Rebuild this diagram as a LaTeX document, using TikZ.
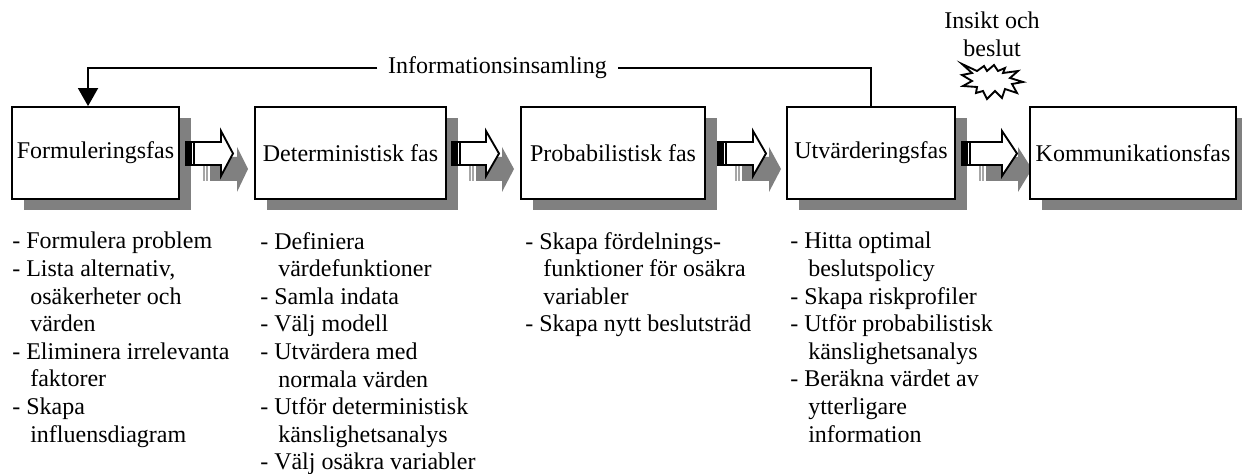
\documentclass[tikz,border=0pt]{standalone}
\usepackage{fontspec}
\setmainfont{Liberation Serif}
\usetikzlibrary{positioning}
\usetikzlibrary{arrows.meta}
\usetikzlibrary{shadows}
\tikzset{
 fas/.style={draw,line width=1.4pt,fill=white,minimum height=69pt,inner sep=0pt,
  drop shadow={fill=gray,opacity=1,shadow xshift=9pt,shadow yshift=-8.5pt}},
 lista/.style={anchor=north west,align=left,inner sep=0pt,font=\fontsize{18}{20.7}\selectfont},
 linje/.style={draw,line width=1.4pt},
 pilskugga/.style={fill=gray,draw=none}
}
\newcommand{\ind}{\hspace*{13.5pt}}
\newcommand{\fasepil}[3]{
 \fill[pilskugga]({#1+24},157)--({#2+16},157)--({#2+16},147)--({#3+15},169)--({#2+16},192)--({#2+16},181)--({#1+24},181)--cycle;
 \draw[gray!70,line width=1.1pt]({#1+18},165)--({#1+18},181);
 \draw[gray!70,line width=1.1pt]({#1+21},165)--({#1+21},181);
 \draw[linje,fill=white,line join=miter]({#1},142)--({#2},142)--({#2},131)--({#3},153.5)--({#2},176)--({#2},165)--({#1},165)--cycle;
 \fill[black]({#1},142) rectangle ({#1+6},165);
 \draw[line width=1.4pt]({#1+8},142)--({#1+8},165);
}

\begin{document}
\begin{tikzpicture}[x=0.75pt,y=-0.75pt,font=\fontsize{18}{21}\selectfont]
 \useasboundingbox (0,0) rectangle (1242,474);
 \node (form) [fas,minimum width=125.25pt] at (95.5,153) {Formuleringsfas};
 \fasepil{186}{221}{233}
 \node (det) [fas,minimum width=143.25pt] at (350.5,153) {Deterministisk fas};
 \fasepil{452}{486}{499}
 \node (prob) [fas,minimum width=138pt] at (613,153) {Probabilistisk fas};
 \fasepil{718}{753}{766}
 \node (utv) [fas,minimum width=126pt] at (871,153) {Utvärderingsfas};
 \fasepil{962}{1002}{1017}
 \node (komm) [fas,minimum width=154.5pt] at (1133,153) {Kommunikationsfas};

 \node (info) [fill=white,inner xsep=8pt,inner ysep=2pt] at (497.5,68) {Informationsinsamling};
 \draw[linje] (utv.north) |- (info);
 \draw[linje,-{Triangle[length=13.5pt,width=15pt]}] (info) -| ([xshift=-5.6pt]form.north);

 \node (insikt) [align=center,inner sep=0pt] at (992,34) {Insikt och\\beslut};
 \draw[line width=1.4pt,fill=white,line join=miter] (962,64)--(977,71)--(984,66)--(987,71)--(994,65)--(998,71)--(1005,68)--(1003,73)--(1018,71)--(1010,78)--(1023,82)--(1012,84)--(1017,93)--(1005,89)--(1002,98)--(995,91)--(987,99)--(983,91)--(976,93)--(977,87)--(963,86)--(972,81)--(962,75)--(972,73)--cycle;

 \node (lista1) [lista] at (12,232) {- Formulera problem\\- Lista alternativ,\\\ind osäkerheter och\\\ind värden\\- Eliminera irrelevanta\\\ind faktorer\\- Skapa\\\ind influensdiagram};
 \node (lista2) [lista] at (260,232) {- Definiera\\\ind värdefunktioner\\- Samla indata\\- Välj modell\\- Utvärdera med\\\ind normala värden\\- Utför deterministisk\\\ind känslighetsanalys\\- Välj osäkra variabler};
 \node (lista3) [lista] at (525,232) {- Skapa fördelnings-\\\ind funktioner för osäkra\\\ind variabler\\- Skapa nytt beslutsträd};
 \node (lista4) [lista] at (790,232) {- Hitta optimal\\\ind beslutspolicy\\- Skapa riskprofiler\\- Utför probabilistisk\\\ind känslighetsanalys\\- Beräkna värdet av\\\ind ytterligare\\\ind information};
\end{tikzpicture}
\end{document}
